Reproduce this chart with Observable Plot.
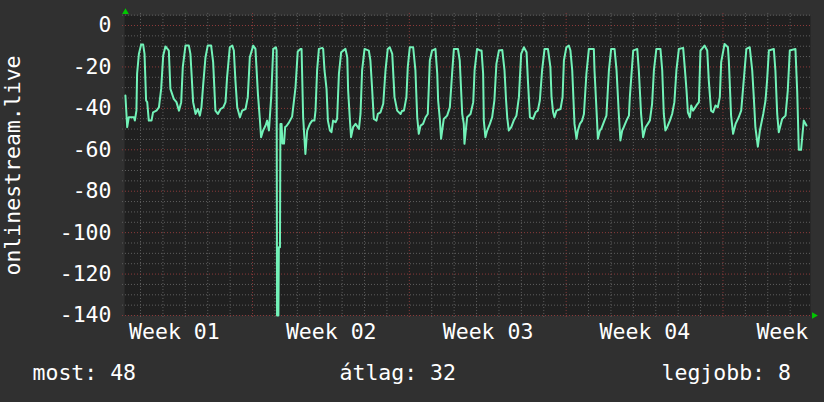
<!DOCTYPE html>
<html><head><meta charset="utf-8">
<script src="https://cdn.jsdelivr.net/npm/d3@7"></script>
<script src="https://cdn.jsdelivr.net/npm/@observablehq/plot@0.6"></script>
<style>
html,body{margin:0;padding:0;background:#303030;overflow:hidden;}
</style></head><body><div id="chart"></div>
<script>
// ---- data (x in days from start of window, y in series units) ----
const seriesName = "onlinestream.live";
const yTicks = [0, -20, -40, -60, -80, -100, -120, -140];
const weekLabels = ["Week 01", "Week 02", "Week 03", "Week 04", "Week"];
const weekStarts = [5.69, 12.66, 19.63, 26.60];
const legendLabels = ["most", "átlag", "legjobb"];
const legendValues = [48, 32, 8];

const seg1 = [[0.04,-33.8],[0.12,-49.1],[0.19,-44.3],[0.42,-44.3],[0.46,-45.9],[0.53,-41.1],[0.56,-23.3],[0.64,-13.7],[0.74,-9.2],[0.83,-9.2],[0.89,-13.7],[0.96,-36.2],[1.01,-37.0],[1.08,-45.9],[1.20,-45.9],[1.27,-41.9],[1.42,-41.1],[1.53,-39.5],[1.63,-30.6],[1.72,-14.5],[1.82,-10.1],[1.97,-12.1],[2.04,-30.6],[2.19,-35.4],[2.31,-37.0],[2.42,-41.1],[2.52,-37.0],[2.59,-20.1],[2.71,-9.7],[2.86,-9.7],[2.93,-13.7],[2.98,-23.3],[3.05,-37.0],[3.16,-42.7],[3.26,-40.3],[3.35,-43.5],[3.42,-39.5],[3.50,-28.2],[3.60,-15.3],[3.70,-9.7],[3.85,-9.7],[3.94,-17.7],[4.04,-41.1],[4.15,-42.7],[4.27,-40.3],[4.39,-39.5],[4.49,-37.0],[4.56,-24.9],[4.68,-10.5],[4.79,-9.7],[4.86,-12.1],[4.93,-26.6],[5.01,-39.5],[5.13,-44.3],[5.23,-41.1],[5.38,-40.3],[5.48,-34.6],[5.57,-15.3],[5.72,-9.7],[5.82,-11.3],[5.93,-33.0],[6.02,-45.9],[6.07,-53.9],[6.16,-50.7],[6.27,-48.3],[6.34,-45.9],[6.42,-50.7],[6.52,-34.6],[6.61,-11.3],[6.73,-10.5]];
const seg2 = [[6.76,-12],[6.78,-140],[6.84,-140],[6.86,-107],[6.91,-107],[6.93,-47.5],[6.98,-47.5],[7.02,-57],[7.09,-57],[7.14,-49],[7.2,-48.5],[7.3,-47],[7.45,-44],[7.6,-30],[7.7,-12.5],[7.82,-11.3],[7.87,-11.3],[7.94,-44.3],[8.04,-62],[8.12,-50.7],[8.24,-47.5],[8.34,-45.9],[8.44,-45.9],[8.49,-41.1],[8.56,-21.7],[8.64,-11.3],[8.79,-10.8],[8.83,-11.3],[8.89,-21.7],[8.98,-30.6],[9.04,-45.9],[9.13,-50.7],[9.2,-51.5],[9.27,-45.9],[9.38,-46.7],[9.45,-45.1],[9.53,-23.3],[9.63,-12.9],[9.82,-11.3],[9.9,-15.3],[9.94,-31.4],[10.02,-45.9],[10.07,-53.9],[10.16,-49.1],[10.27,-47.5],[10.42,-49.9],[10.49,-42.7],[10.56,-21.7],[10.67,-11.3],[10.86,-12.1],[10.93,-16.9],[11.01,-31.4],[11.08,-45.1],[11.2,-45.9],[11.26,-42.7],[11.38,-41.9],[11.5,-37.8],[11.6,-21.7],[11.7,-11.3],[11.79,-10.5],[11.9,-13.7],[12.0,-34.6],[12.12,-41.1],[12.27,-42.7],[12.34,-41.1],[12.42,-41.1],[12.53,-34.6],[12.59,-20.1],[12.68,-10.5]];
const seg3 = [[12.83,-10.5],[12.93,-21.7],[13.01,-44.3],[13.08,-52.3],[13.16,-48.3],[13.27,-47.5],[13.38,-44.3],[13.48,-42.7],[13.57,-16.9],[13.67,-12.1],[13.82,-11.3],[13.9,-23.3],[13.94,-36.2],[14.02,-45.9],[14.07,-54.7],[14.19,-45.1],[14.34,-43.5],[14.46,-39.5],[14.56,-23.3],[14.64,-11.3],[14.82,-11.3],[14.9,-16.9],[15.01,-42.7],[15.08,-47.5],[15.11,-57.1],[15.23,-44.3],[15.38,-42.7],[15.5,-37],[15.56,-21.7],[15.67,-11.3],[15.82,-12.1],[15.87,-12.1],[15.94,-23.3],[15.97,-45.9],[16.04,-53.9],[16.12,-50.7],[16.24,-47.5],[16.34,-44.3],[16.44,-36.2],[16.53,-18.5],[16.64,-12.1],[16.79,-11.8],[16.89,-21.7],[16.96,-36.2],[17.01,-44.3],[17.08,-50.7],[17.19,-49.1],[17.3,-45.9],[17.42,-43.5],[17.53,-34.6],[17.63,-13.7],[17.75,-10.5],[17.87,-12.9],[17.93,-26.6],[18.02,-44.3],[18.16,-45.1],[18.27,-41.9],[18.37,-41.1],[18.46,-36.2],[18.56,-21.7],[18.67,-11.3],[18.82,-11.3],[18.93,-20.1],[18.98,-34.6],[19.05,-41.9],[19.11,-44.3],[19.2,-41.1],[19.38,-40.3],[19.47,-34.6],[19.53,-16.9],[19.64,-10.5]];
const seg4 = [[19.75,-9.7],[19.82,-12.1],[19.9,-21.7],[20.0,-47.5],[20.09,-54.7],[20.15,-50.7],[20.24,-47.5],[20.34,-45.9],[20.42,-42.7],[20.53,-23.3],[20.64,-11.3],[20.86,-11.3],[20.89,-21.7],[20.98,-41.1],[21.04,-54.7],[21.13,-50.7],[21.19,-49.9],[21.33,-45.9],[21.42,-43.5],[21.53,-21.7],[21.63,-11.3],[21.78,-11.3],[21.87,-21.7],[21.97,-42.7],[22.04,-55.5],[22.12,-50.7],[22.19,-49.1],[22.31,-45.9],[22.42,-43.5],[22.46,-34.6],[22.61,-12.1],[22.79,-11.3],[22.86,-21.7],[22.96,-42.7],[23.05,-53.9],[23.16,-49.1],[23.26,-47.5],[23.35,-45.9],[23.45,-37.8],[23.53,-21.7],[23.64,-11.3],[23.82,-11.3],[23.9,-21.7],[23.97,-42.7],[24.04,-50.7],[24.12,-49.1],[24.24,-45.9],[24.34,-42.7],[24.44,-37],[24.53,-21.7],[24.64,-11.3],[24.83,-10.8],[24.9,-20.1],[24.98,-31.4],[25.04,-41.9],[25.13,-44.3],[25.19,-38.6],[25.27,-41.1],[25.42,-38.6],[25.53,-37],[25.6,-12.1],[25.78,-9.7],[25.9,-12.1],[25.97,-26.6],[26.07,-41.1],[26.16,-41.9],[26.27,-38.6],[26.37,-39.5],[26.46,-34.6],[26.52,-17.7]];
const seg5 = [[26.67,-8.9],[26.82,-10.5],[26.86,-16.9],[26.96,-43.5],[27.05,-52.3],[27.16,-47.5],[27.3,-44.3],[27.41,-41.1],[27.56,-21.7],[27.64,-11.3],[27.79,-10.5],[27.9,-21.7],[27.97,-34.6],[28.04,-49.1],[28.15,-58.5],[28.24,-50.7],[28.39,-42.7],[28.49,-36.2],[28.56,-26.6],[28.64,-12.1],[28.86,-11.3],[28.93,-21.7],[29.01,-42.7],[29.08,-51.5],[29.23,-45.1],[29.38,-43.5],[29.48,-31.4],[29.57,-12.1],[29.82,-11.3],[29.9,-32.2],[29.97,-60],[30.07,-60],[30.19,-45.9],[30.31,-48.3]];

// ---- layout / scales ----
const points = [...seg1, ...seg2, ...seg3, ...seg4, ...seg5];
const xDomain = [0, 30.49];
const yDomain = [-140, 4.83];
const dayLen = (weekStarts[3] - weekStarts[0]) / 21;
const dayLines = d3.range(-5, 25).map(k => weekStarts[0] + k * dayLen).filter(d => d > xDomain[0] && d < xDomain[1] && !weekStarts.some(w => Math.abs(w - d) < 1e-6));
const weekMid = [...weekStarts.map(s => s - 3.5 * dayLen), weekStarts[3] + 3.5 * dayLen];
const minorY = d3.range(5, -141, -5).filter(v => v % 20 !== 0);
const ext = 0.09;

const font = "'DejaVu Sans Mono', monospace";
const chart = Plot.plot({
  width: 824, height: 402,
  marginLeft: 124, marginRight: 14, marginTop: 15, marginBottom: 87,
  style: {background: "#303030", color: "#ffffff", fontFamily: font, fontSize: "21.5px"},
  x: {domain: xDomain, axis: null},
  y: {domain: yDomain, ticks: yTicks, tickSize: 0, tickPadding: 13, tickFormat: d => d.toString(), label: null},
  marks: [
    Plot.frame({fill: "#202020", stroke: "none"}),
    Plot.ruleY(minorY, {x1: xDomain[0] - ext, x2: xDomain[1] + ext, stroke: "#606060", strokeDasharray: "1,2"}),
    Plot.ruleX(dayLines, {y1: yDomain[1] + 1, y2: yDomain[0] - 1.5, stroke: "#606060", strokeDasharray: "1,2"}),
    Plot.ruleY(yTicks, {x1: xDomain[0] - ext, x2: xDomain[1] + ext, stroke: "#8e3b3b", strokeDasharray: "1,2"}),
    Plot.ruleX(weekStarts, {y1: yDomain[1] + 1, y2: yDomain[0] - 1.5, stroke: "#8e3b3b", strokeDasharray: "1,2"}),
    Plot.line(points, {x: d => d[0], y: d => d[1], stroke: "#72f2b8", strokeWidth: 2}),
    Plot.text(weekLabels, {x: (d, i) => weekMid[i], y: yDomain[0], dx: -45, dy: 17, textAnchor: "start", lineAnchor: "middle", text: d => d, fill: "#ffffff"}),
    Plot.text([seriesName], {frameAnchor: "left", dx: -111, rotate: -90, textAnchor: "middle", lineAnchor: "middle", text: d => d, fill: "#ffffff"}),
    Plot.dot([0], {x: xDomain[0], y: yDomain[1], dx: 1, dy: -3.5, symbol: "triangle2", r: 3.2, fill: "#00c800", stroke: "none"}),
    Plot.dot([0], {x: xDomain[1], y: yDomain[0], dx: 3.5, rotate: 90, symbol: "triangle2", r: 3.2, fill: "#00c800", stroke: "none"}),
    Plot.text([0], {frameAnchor: "bottom-left", dx: -92, dy: 58, textAnchor: "start", lineAnchor: "middle", text: () => `${legendLabels[0]}: ${legendValues[0]}`, fill: "#ffffff"}),
    Plot.text([0], {frameAnchor: "bottom-left", dx: 215, dy: 58, textAnchor: "start", lineAnchor: "middle", text: () => `${legendLabels[1]}: ${legendValues[1]}`, fill: "#ffffff"}),
    Plot.text([0], {frameAnchor: "bottom-left", dx: 537, dy: 58, textAnchor: "start", lineAnchor: "middle", text: () => `${legendLabels[2]}: ${legendValues[2]}`, fill: "#ffffff"})
  ]
});
document.getElementById("chart").appendChild(chart);
</script>
</body></html>
